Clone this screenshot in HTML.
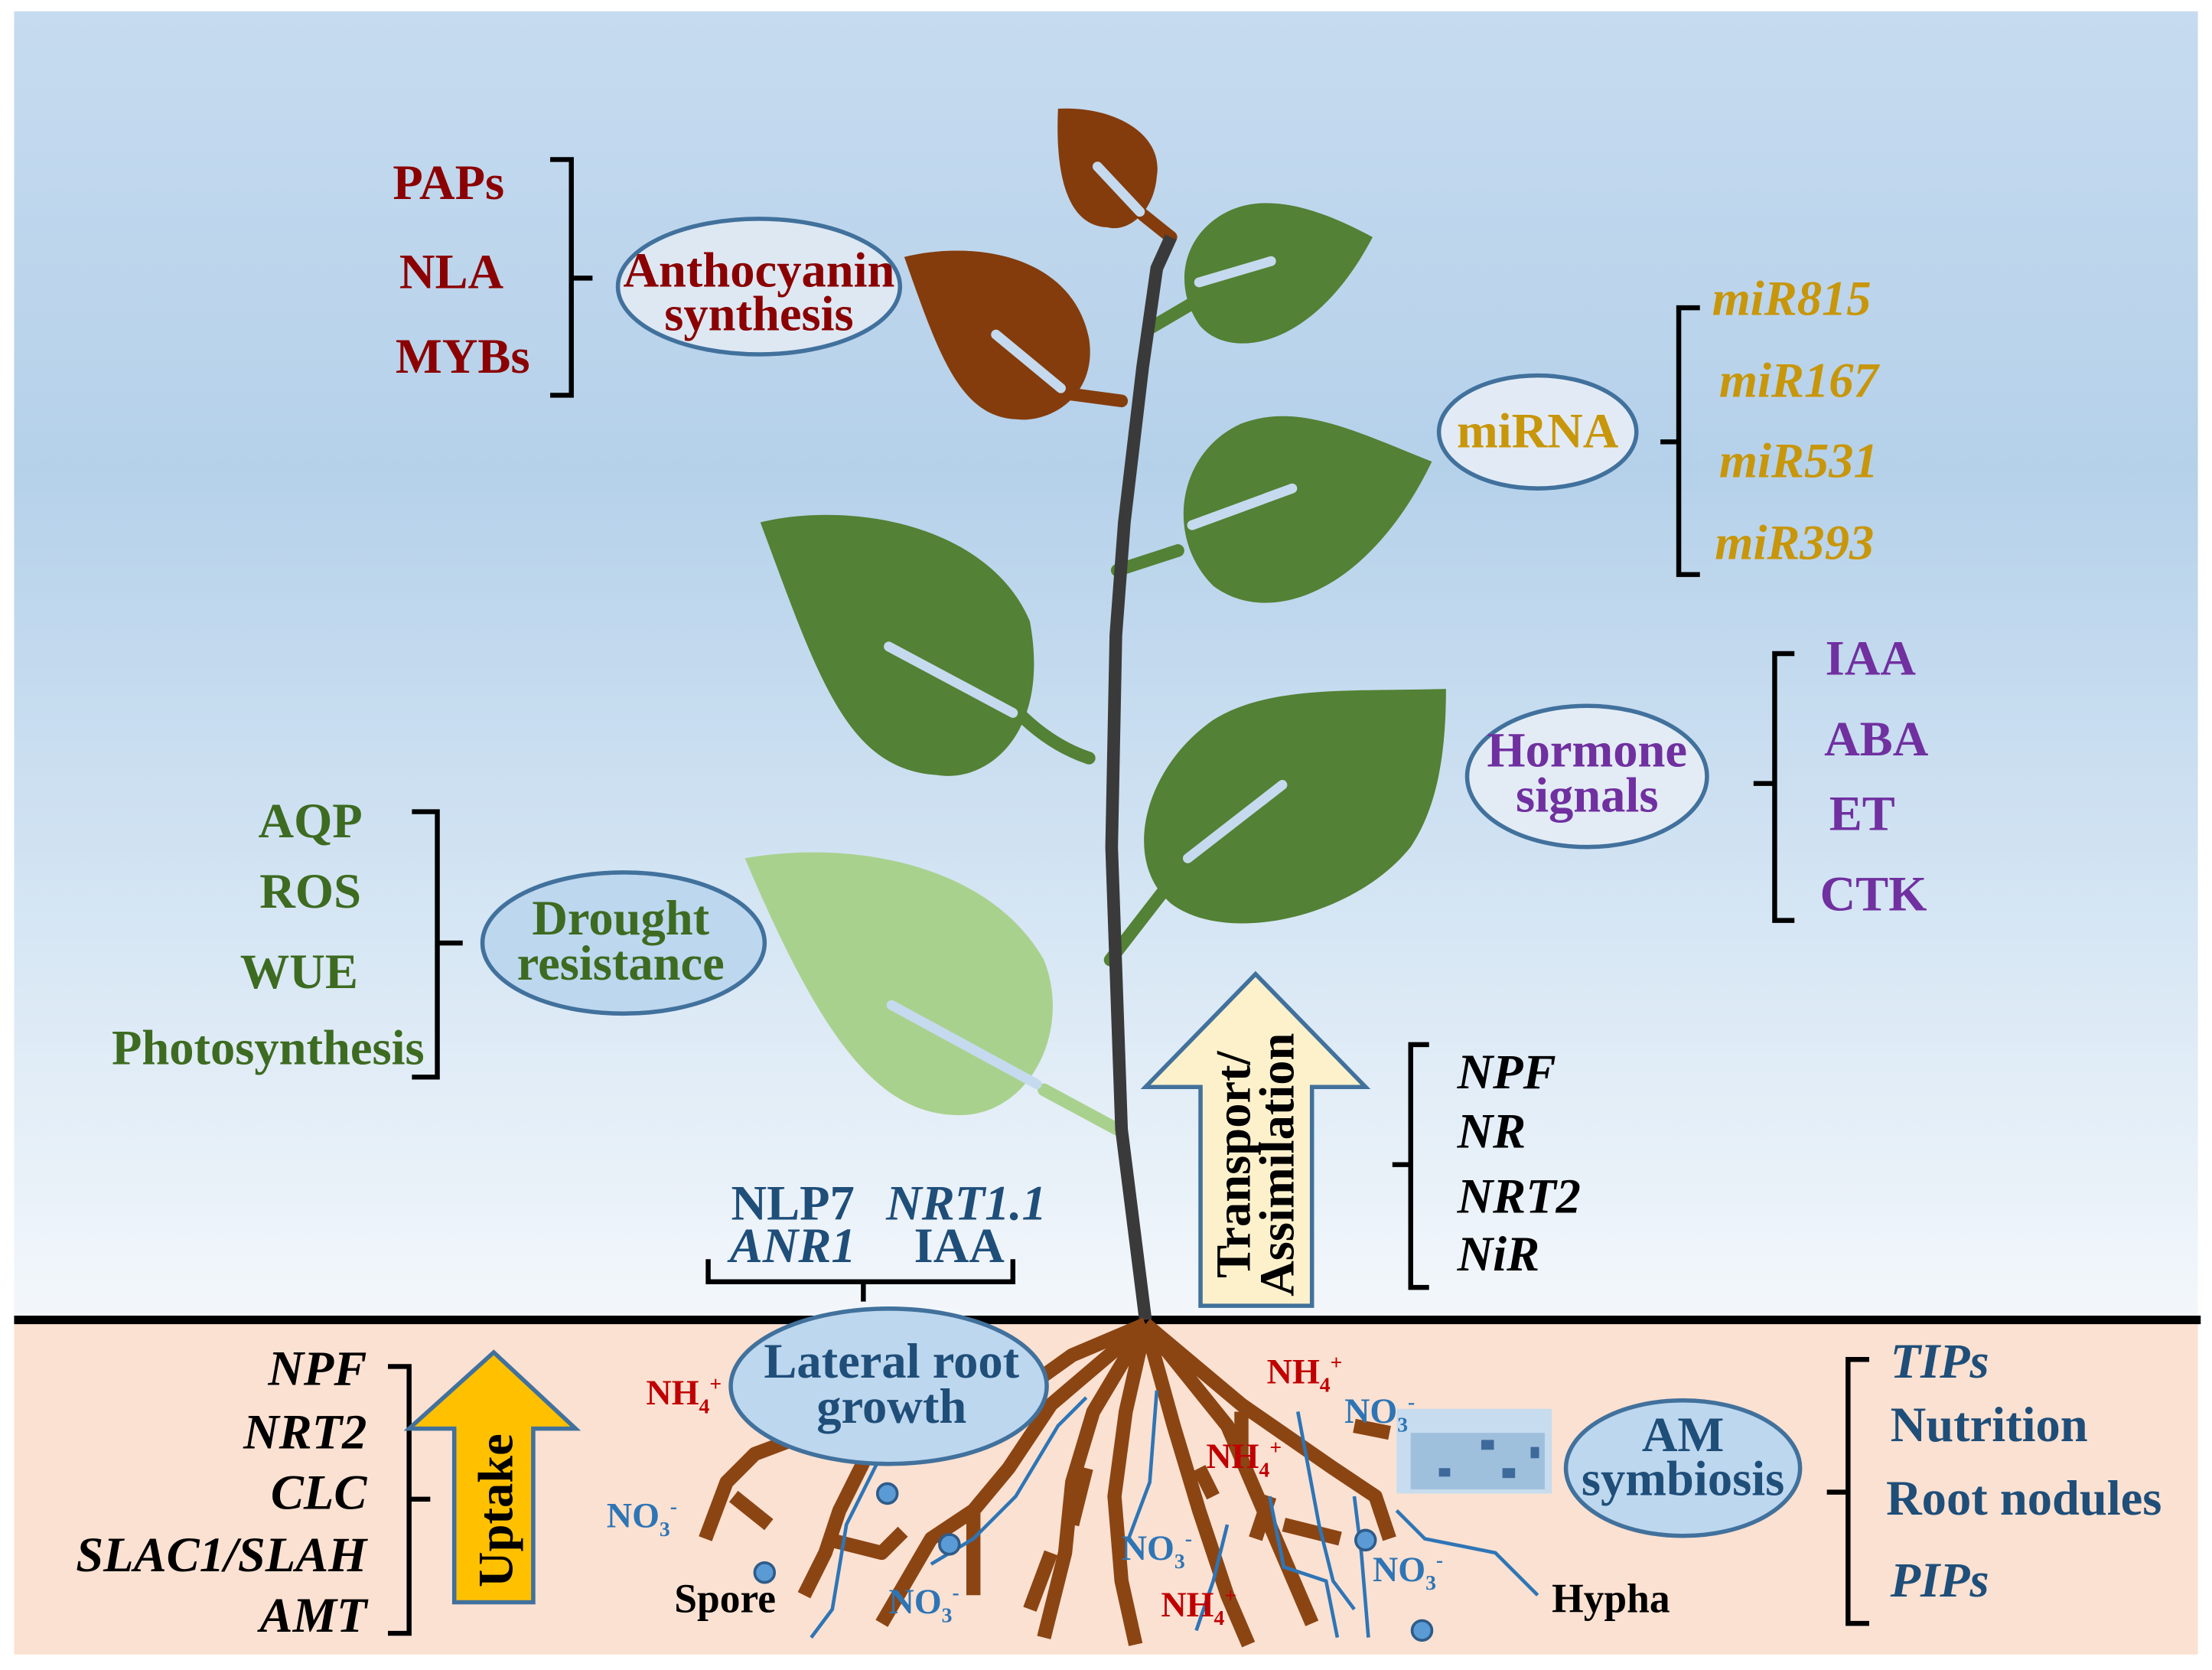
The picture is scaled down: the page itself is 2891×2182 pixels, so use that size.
<!DOCTYPE html>
<html><head><meta charset="utf-8"><style>
html,body{margin:0;padding:0;background:#fff}
svg{display:block}
text{font-family:"Liberation Serif",serif;font-weight:bold}
</style></head><body>
<svg width="2891" height="2182" viewBox="0 0 1568 1183" preserveAspectRatio="none" xmlns="http://www.w3.org/2000/svg">
<defs>
<linearGradient id="sky" x1="0" y1="0" x2="0" y2="1">
<stop offset="0" stop-color="#c6dbef"/><stop offset="0.35" stop-color="#b5d1ea"/><stop offset="0.7" stop-color="#d6e6f4"/><stop offset="1" stop-color="#f3f7fb"/>
</linearGradient>
</defs>
<rect x="0" y="0" width="1568" height="1183" fill="#fff"/>
<rect x="10" y="8" width="1548" height="926" fill="url(#sky)"/>
<rect x="10" y="936" width="1548" height="236" fill="#fbe1d2"/>
<line x1="10" y1="935" x2="1560" y2="935" stroke="#000" stroke-width="6"/>

<!-- petioles -->
<g fill="none" stroke-linecap="round" stroke-width="9">
<path d="M810,152 L830,168" stroke="#843c0c"/>
<path d="M750,278 L795,284" stroke="#843c0c"/>
<path d="M845,215 L816,232" stroke="#538135"/>
<path d="M835,390 L792,404" stroke="#538135"/>
<path d="M722,505 Q745,528 772,537" stroke="#538135"/>
<path d="M835,618 L787,680" stroke="#538135"/>
<path d="M740,772 L792,800" stroke="#a9d18e"/>
</g>
<!-- leaves -->
<path d="M750,77 C790,75 825,95 820,125 C818,150 800,165 785,161 C755,160 748,120 750,77 Z" fill="#843c0c"/>
<path d="M641,182 C690,170 760,180 772,240 C778,280 745,300 720,297 C680,295 665,250 641,182 Z" fill="#843c0c"/>
<path d="M973,168 C940,150 900,135 870,150 C840,165 830,200 850,230 C870,255 930,250 973,168 Z" fill="#538135"/>
<path d="M1015,327 C960,305 920,285 880,300 C835,320 825,380 860,415 C900,445 970,420 1015,327 Z" fill="#538135"/>
<path d="M539,370 C600,355 700,370 730,440 C745,520 700,555 664,549 C600,545 580,480 539,370 Z" fill="#538135"/>
<path d="M1025,488 C960,490 900,485 860,510 C810,545 795,610 830,640 C870,670 960,650 1000,600 C1020,570 1025,530 1025,488 Z" fill="#538135"/>
<path d="M528,608 C600,595 700,610 740,680 C760,730 730,790 680,790 C620,790 580,730 528,608 Z" fill="#a9d18e"/>
<!-- veins -->
<g fill="none" stroke="#c5daee" stroke-linecap="round" stroke-width="7">
<path d="M778,118 L808,150"/>
<path d="M706,237 L752,275"/>
<path d="M901,185 L850,200"/>
<path d="M916,346 L845,372"/>
<path d="M630,458 L718,505"/>
<path d="M909,556 L842,608"/>
<path d="M632,712 L735,768"/>
</g>
<!-- stem -->
<path d="M830,168 L820,190 L810,260 L797,370 L791,450 L788,600 L795,800 L812,935" fill="none" stroke="#3a3a3a" stroke-width="9" stroke-linejoin="round"/>

<!-- roots -->
<g fill="none" stroke="#8b4513" stroke-width="10" stroke-linecap="butt" stroke-linejoin="round">
<path d="M812,938 L760,960 L725,985"/>
<path d="M812,938 L745,995 L715,1040 L690,1070 L660,1090 L625,1150"/>
<path d="M812,938 L775,1000 L760,1050 L755,1100 L740,1160"/>
<path d="M812,938 L798,1000 L790,1060 L795,1120 L805,1165"/>
<path d="M812,938 L832,1010 L850,1070 L870,1130 L885,1165"/>
<path d="M812,938 L870,1010 L900,1080 L930,1150"/>
<path d="M812,938 L880,995 L945,1040 L975,1060 L985,1090"/>
<path d="M640,1000 L615,1030 L595,1070 L585,1100 L570,1130"/>
<path d="M585,1090 L625,1100 L640,1085"/>
<path d="M500,1090 L515,1050 L535,1030 L575,1015"/>
<path d="M520,1060 L545,1080"/>
<path d="M880,1000 L880,1040"/>
<path d="M900,1060 L890,1090"/>
<path d="M910,1080 L950,1090"/>
<path d="M960,1010 L985,1015"/>
<path d="M770,1040 L760,1080"/>
<path d="M745,1100 L730,1140"/>
<path d="M690,1070 L690,1130"/>
<path d="M850,1040 L860,1060"/>
</g>
<!-- hyphae -->
<g fill="none" stroke="#2e75b6" stroke-width="2.5">
<path d="M575,1160 L590,1140 L600,1080 L630,1020"/>
<path d="M660,1108 L690,1090 L720,1060 L750,1010 L770,990"/>
<path d="M820,985 L815,1050 L800,1090"/>
<path d="M870,1080 L860,1120 L848,1155"/>
<path d="M900,1060 L910,1110 L940,1120 L948,1160"/>
<path d="M920,1000 L935,1080 L945,1120 L960,1140"/>
<path d="M990,1070 L1010,1090 L1060,1100 L1090,1130"/>
<path d="M960,1060 L965,1100 L970,1160"/>
</g>
<g fill="#5b9bd5" stroke="#2e5c8a" stroke-width="2">
<circle cx="629" cy="1058" r="7"/><circle cx="673" cy="1094" r="7"/><circle cx="542" cy="1114" r="7"/>
<circle cx="968" cy="1091" r="7"/><circle cx="1008" cy="1155" r="7"/>
</g>
<!-- micrograph -->
<rect x="990" y="998" width="110" height="60" fill="#c7dcee"/>
<rect x="1000" y="1015" width="95" height="40" fill="#8fb3d6" opacity="0.7"/>
<g fill="#3d6a9a"><rect x="1050" y="1020" width="9" height="7"/><rect x="1020" y="1040" width="8" height="6"/><rect x="1065" y="1040" width="9" height="7"/><rect x="1085" y="1025" width="6" height="8"/></g>

<!-- ions -->
<g font-size="25">
<text x="458" y="995" fill="#c00000">NH<tspan font-size="15" dy="6">4</tspan><tspan font-size="15" dy="-16">+</tspan></text>
<text x="898" y="980" fill="#c00000">NH<tspan font-size="15" dy="6">4</tspan><tspan font-size="15" dy="-16">+</tspan></text>
<text x="855" y="1040" fill="#c00000">NH<tspan font-size="15" dy="6">4</tspan><tspan font-size="15" dy="-16">+</tspan></text>
<text x="823" y="1145" fill="#c00000">NH<tspan font-size="15" dy="6">4</tspan><tspan font-size="15" dy="-16">+</tspan></text>
<text x="430" y="1082" fill="#2e75b6">NO<tspan font-size="15" dy="6">3</tspan><tspan font-size="15" dy="-16">-</tspan></text>
<text x="953" y="1008" fill="#2e75b6">NO<tspan font-size="15" dy="6">3</tspan><tspan font-size="15" dy="-16">-</tspan></text>
<text x="795" y="1105" fill="#2e75b6">NO<tspan font-size="15" dy="6">3</tspan><tspan font-size="15" dy="-16">-</tspan></text>
<text x="973" y="1120" fill="#2e75b6">NO<tspan font-size="15" dy="6">3</tspan><tspan font-size="15" dy="-16">-</tspan></text>
<text x="630" y="1143" fill="#2e75b6">NO<tspan font-size="15" dy="6">3</tspan><tspan font-size="15" dy="-16">-</tspan></text>
</g>
<text x="478" y="1142" font-size="29" fill="#000">Spore</text>
<text x="1100" y="1142" font-size="29" fill="#000">Hypha</text>

<!-- ellipses -->
<g stroke="#41719c" stroke-width="3">
<ellipse cx="538" cy="203" rx="100" ry="48" fill="#dde8f3"/>
<ellipse cx="1090" cy="306" rx="70" ry="40" fill="#e2ebf5"/>
<ellipse cx="1125" cy="550" rx="85" ry="50" fill="#e3ecf5"/>
<ellipse cx="442" cy="668" rx="100" ry="50" fill="#bdd7ee"/>
<ellipse cx="630" cy="982" rx="112" ry="55" fill="#bdd7ee"/>
<ellipse cx="1193" cy="1040" rx="83" ry="48" fill="#bdd7ee"/>
</g>
<g font-size="35" text-anchor="middle">
<text x="538" y="203" fill="#8b0000">Anthocyanin</text>
<text x="538" y="234" fill="#8b0000">synthesis</text>
<text x="1090" y="317" fill="#c8960a">miRNA</text>
<text x="1125" y="543" fill="#7030a0">Hormone</text>
<text x="1125" y="575" fill="#7030a0">signals</text>
<text x="440" y="662" fill="#3d6b21">Drought</text>
<text x="440" y="694" fill="#3d6b21">resistance</text>
<text x="632" y="976" fill="#1f4e79">Lateral root</text>
<text x="632" y="1008" fill="#1f4e79">growth</text>
<text x="1193" y="1028" fill="#1f4e79">AM</text>
<text x="1193" y="1059" fill="#1f4e79">symbiosis</text>

<text x="318" y="141" fill="#8b0000">PAPs</text>
<text x="320" y="204" fill="#8b0000">NLA</text>
<text x="328" y="264" fill="#8b0000">MYBs</text>
<g font-style="italic" fill="#c8960a">
<text x="1270" y="223">miR815</text><text x="1275" y="281">miR167</text><text x="1275" y="338">miR531</text><text x="1272" y="396">miR393</text>
</g>
<g fill="#7030a0">
<text x="1326" y="478">IAA</text><text x="1330" y="535">ABA</text><text x="1320" y="588">ET</text><text x="1328" y="645">CTK</text>
</g>
<g fill="#3d6b21">
<text x="220" y="593">AQP</text><text x="220" y="643">ROS</text><text x="212" y="700">WUE</text><text x="190" y="754">Photosynthesis</text>
</g>
<g fill="#1f4e79">
<text x="562" y="864">NLP7</text><text x="685" y="864" font-style="italic">NRT1.1</text>
<text x="562" y="894" font-style="italic">ANR1</text><text x="680" y="894">IAA</text>
</g>
</g>
<g font-size="35" font-style="italic" fill="#000">
<text x="1033" y="771">NPF</text><text x="1033" y="813">NR</text><text x="1033" y="859">NRT2</text><text x="1033" y="900">NiR</text>
</g>
<g font-size="35" font-style="italic" fill="#000" text-anchor="end">
<text x="260" y="981">NPF</text><text x="260" y="1026">NRT2</text><text x="260" y="1069">CLC</text><text x="260" y="1113">SLAC1/SLAH</text><text x="260" y="1156">AMT</text>
</g>
<g font-size="35" fill="#1f4e79">
<text x="1340" y="976" font-style="italic">TIPs</text><text x="1340" y="1021">Nutrition</text><text x="1337" y="1073">Root nodules</text><text x="1340" y="1131" font-style="italic">PIPs</text>
</g>

<!-- brackets -->
<g fill="none" stroke="#000" stroke-width="3.5">
<path d="M390,113 L405,113 L405,280 L390,280 M405,197 L420,197"/>
<path d="M1205,218 L1190,218 L1190,407 L1205,407 M1190,313 L1177,313"/>
<path d="M1272,463 L1258,463 L1258,652 L1272,652 M1258,555 L1243,555"/>
<path d="M292,575 L310,575 L310,763 L292,763 M310,668 L328,668"/>
<path d="M1013,740 L1000,740 L1000,912 L1013,912 M1000,825 L987,825"/>
<path d="M502,892 L502,908 L718,908 L718,892 M612,908 L612,922"/>
<path d="M275,968 L290,968 L290,1157 L275,1157 M290,1062 L305,1062"/>
<path d="M1325,963 L1310,963 L1310,1150 L1325,1150 M1310,1057 L1295,1057"/>
</g>

<!-- arrows -->
<path d="M350,958 L408,1012 L378,1012 L378,1135 L322,1135 L322,1012 L290,1012 Z" fill="#ffc000" stroke="#41719c" stroke-width="3"/>
<text transform="translate(363,1070) rotate(-90)" font-size="35" text-anchor="middle" fill="#000">Uptake</text>
<path d="M890,690 L968,770 L930,770 L930,925 L851,925 L851,770 L812,770 Z" fill="#fdf1cb" stroke="#41719c" stroke-width="3"/>
<text transform="translate(886,825) rotate(-90)" font-size="35" text-anchor="middle" fill="#000">Transport/</text>
<text transform="translate(917,825) rotate(-90)" font-size="35" text-anchor="middle" fill="#000">Assimilation</text>
</svg>
</body></html>
